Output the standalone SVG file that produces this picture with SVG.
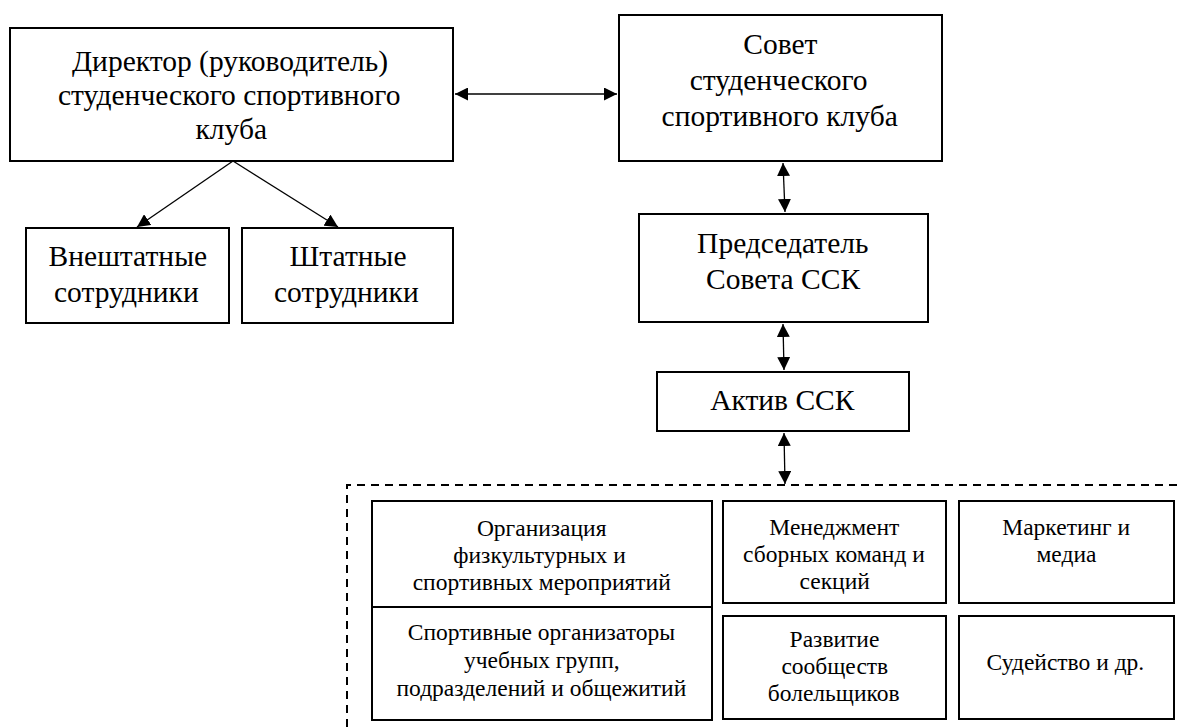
<svg xmlns="http://www.w3.org/2000/svg" width="1177" height="727" viewBox="0 0 1177 727">
<defs>
<marker id="ahb" viewBox="0 0 12 12" refX="12" refY="6" markerWidth="13" markerHeight="13" markerUnits="userSpaceOnUse" orient="auto-start-reverse">
<path d="M0,0 L12,6 L0,12 z" fill="#000"/>
</marker>
</defs>
<rect width="1177" height="727" fill="#fff"/>

<g id="connectors" fill="none" stroke="#000" stroke-width="1.3">
<line x1="455" y1="94" x2="617" y2="94" marker-start="url(#ahb)" marker-end="url(#ahb)"/>
<line x1="233" y1="161" x2="137" y2="227" marker-end="url(#ahb)"/>
<line x1="233" y1="161" x2="338" y2="227" marker-end="url(#ahb)"/>
<line x1="783" y1="163" x2="785" y2="212" marker-start="url(#ahb)" marker-end="url(#ahb)"/>
<line x1="783" y1="324" x2="784" y2="370" marker-start="url(#ahb)" marker-end="url(#ahb)"/>
<line x1="784" y1="433" x2="785" y2="484" marker-start="url(#ahb)" marker-end="url(#ahb)"/>
<path d="M347,727 V485 H1177" stroke-width="2" stroke-dasharray="8 6"/>
</g>

<g id="director">
<rect x="10" y="28" width="443" height="133" fill="#fff" stroke="#000" stroke-width="2"/>
<text font-family="Liberation Serif" font-size="29.5" x="72" y="71">Директор (руководитель)</text>
<text font-family="Liberation Serif" font-size="29.5" x="58" y="105">студенческого спортивного</text>
<text font-family="Liberation Serif" font-size="29.5" x="195.5" y="139">клуба</text>
</g>
<g id="vneshtatnye">
<rect x="26" y="228" width="203" height="95" fill="#fff" stroke="#000" stroke-width="2"/>
<text font-family="Liberation Serif" font-size="29.5" x="48.6" y="266">Внештатные</text>
<text font-family="Liberation Serif" font-size="29.5" x="54" y="302">сотрудники</text>
</g>
<g id="shtatnye">
<rect x="242" y="228" width="211" height="95" fill="#fff" stroke="#000" stroke-width="2"/>
<text font-family="Liberation Serif" font-size="29.5" x="289.6" y="266">Штатные</text>
<text font-family="Liberation Serif" font-size="29.5" x="274" y="302">сотрудники</text>
</g>
<g id="sovet">
<rect x="619" y="15" width="323" height="146" fill="#fff" stroke="#000" stroke-width="2"/>
<text font-family="Liberation Serif" font-size="29.5" x="743.3" y="54">Совет</text>
<text font-family="Liberation Serif" font-size="29.5" x="689.7" y="90">студенческого</text>
<text font-family="Liberation Serif" font-size="29.5" x="661.6" y="126">спортивного клуба</text>
</g>
<g id="predsedatel">
<rect x="639" y="214" width="289" height="108" fill="#fff" stroke="#000" stroke-width="2"/>
<text font-family="Liberation Serif" font-size="29.5" x="697.1" y="253">Председатель</text>
<text font-family="Liberation Serif" font-size="29.5" x="706.1" y="289">Совета ССК</text>
</g>
<g id="aktiv">
<rect x="657" y="372" width="252" height="59" fill="#fff" stroke="#000" stroke-width="2"/>
<text font-family="Liberation Serif" font-size="29.5" x="710.2" y="410">Актив ССК</text>
</g>

<g id="organizaciya">
<rect x="372" y="501" width="340" height="106" fill="#fff" stroke="#000" stroke-width="2"/>
<text font-family="Liberation Serif" font-size="23.5" x="476.9" y="536">Организация</text>
<text font-family="Liberation Serif" font-size="23.5" x="453.3" y="563">физкультурных и</text>
<text font-family="Liberation Serif" font-size="23.5" x="412.7" y="590">спортивных мероприятий</text>
</g>
<g id="sportorg">
<rect x="372" y="607" width="340" height="113" fill="#fff" stroke="#000" stroke-width="2"/>
<text font-family="Liberation Serif" font-size="23.5" x="407.8" y="640">Спортивные организаторы</text>
<text font-family="Liberation Serif" font-size="23.5" x="463.9" y="668">учебных групп,</text>
<text font-family="Liberation Serif" font-size="23.5" x="396.5" y="696">подразделений и общежитий</text>
</g>
<g id="menedzhment">
<rect x="723" y="501" width="223" height="102" fill="#fff" stroke="#000" stroke-width="2"/>
<text font-family="Liberation Serif" font-size="23.5" x="769.3" y="535">Менеджмент</text>
<text font-family="Liberation Serif" font-size="23.5" x="743" y="562">сборных команд и</text>
<text font-family="Liberation Serif" font-size="23.5" x="799.5" y="589">секций</text>
</g>
<g id="marketing">
<rect x="959" y="501" width="215" height="102" fill="#fff" stroke="#000" stroke-width="2"/>
<text font-family="Liberation Serif" font-size="23.5" x="1002.3" y="535">Маркетинг и</text>
<text font-family="Liberation Serif" font-size="23.5" x="1036.5" y="562">медиа</text>
</g>
<g id="razvitie">
<rect x="723" y="616" width="223" height="103" fill="#fff" stroke="#000" stroke-width="2"/>
<text font-family="Liberation Serif" font-size="23.5" x="789.6" y="647">Развитие</text>
<text font-family="Liberation Serif" font-size="23.5" x="781.4" y="674">сообществ</text>
<text font-family="Liberation Serif" font-size="23.5" x="767.8" y="701">болельщиков</text>
</g>
<g id="sudeistvo">
<rect x="959" y="616" width="215" height="103" fill="#fff" stroke="#000" stroke-width="2"/>
<text font-family="Liberation Serif" font-size="23.5" x="986.6" y="670">Судейство и др.</text>
</g>
</svg>
